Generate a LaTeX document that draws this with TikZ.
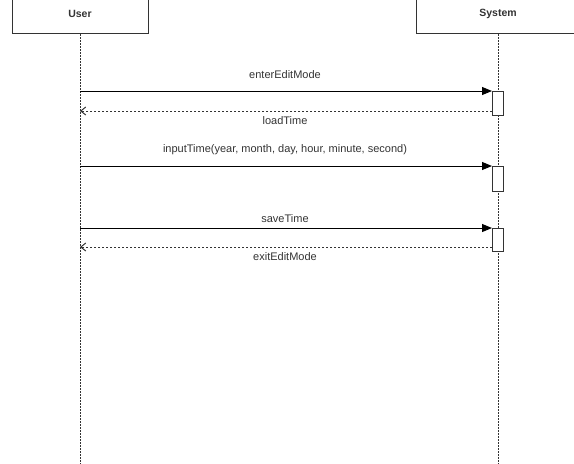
\documentclass[tikz,border=0pt]{standalone}
\usepackage{fontspec}
\setmainfont{Liberation Sans}
\usetikzlibrary{arrows.meta}
\definecolor{LineGray}{HTML}{333333}
\definecolor{TextGray}{HTML}{333333}

\begin{document}
\begin{tikzpicture}[x=1pt, y=1pt, font=\fontsize{11}{13}\selectfont, text=TextGray,
	actor/.style={draw=LineGray, line width=1pt, fill=white, minimum height=40pt, anchor=south, inner sep=0pt, font=\fontsize{10.5}{12}\selectfont\bfseries},
	act/.style={draw=LineGray, line width=1pt, fill=white, minimum width=11pt, inner sep=0pt, anchor=north},
	lifeline/.style={draw=LineGray, line width=1pt, dash pattern=on 1.5pt off 1.5pt},
	call/.style={draw=black, line width=1pt, -{Triangle[length=10pt, width=8pt]}},
	reply/.style={draw=LineGray, line width=1pt, dash pattern=on 2pt off 2pt, -{Straight Barb[length=5pt, width=8pt]}}]
				\useasboundingbox (0,0) rectangle (574,-464);
				\clip (0,0) rectangle (574,-464);

				\node[actor, minimum width=136pt] (user) at (80,-34) {User};
				\node[actor, minimum width=164pt] (system) at (498,-34) {System};

				\coordinate (userend) at (80,-470);
				\coordinate (systemend) at (498,-470);
				\draw[lifeline] (user.south) -- (userend);
				\draw[lifeline] (system.south) -- (systemend);

				\foreach \msg/\ya/\yb/\gap [count=\i] in {enterEditMode/91/115/16, {inputTime(year, month, day, hour, minute, second)}/166/191/16, saveTime/228/251/9} {
					\node[act, minimum height={(\yb-\ya)*1pt}] (act\i) at (498,-\ya) {};
					\coordinate (u\i) at (80,-\ya);
					\draw[call] (u\i) -- (act\i.north west);
					\node (msg\i) at (285,-\ya+\gap) {\msg};
				}

				\foreach \ret/\act/\y [count=\j] in {loadTime/1/111, exitEditMode/3/247} {
					\coordinate (a\j) at (act\act.west |- 0,-\y);
					\coordinate (r\j) at (80,-\y);
					\draw[reply] (a\j) -- (r\j);
					\node (ret\j) at (285,-\y-10) {\ret};
				}

			\end{tikzpicture}
\end{document}
